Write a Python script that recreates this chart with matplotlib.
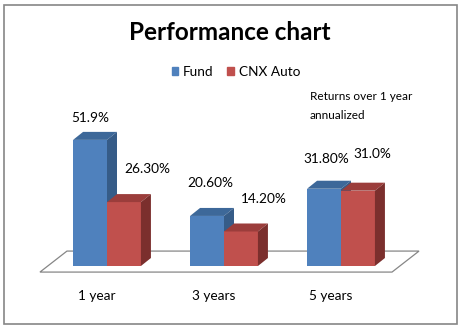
import numpy as np
import matplotlib.pyplot as plt
from matplotlib.patches import Polygon, Patch, Rectangle

plt.rcParams['font.family'] = ['Lato', 'DejaVu Sans']

periods = ['1 year', '3 years', '5 years']
fund = [51.9, 20.6, 31.8]
cnx_auto = [26.3, 14.2, 31.0]
fund_labels = ['51.9%', '20.60%', '31.80%']
cnx_labels = ['26.30%', '14.20%', '31.0%']

# label nudges in pixels (dx, dy) from the top of each bar
fund_offsets = [(0, 22), (3, 33), (2, 30)]
cnx_offsets = [(23, 33), (23, 32), (14, 37)]

blue = ('#4F81BD', '#3D6899', '#365C88')
red = ('#C0504D', '#9B3D3B', '#7B2F2D')

W, H = 464, 329
fig = plt.figure(figsize=(W / 100, H / 100), dpi=100)
ax = fig.add_axes([0, 0, 1, 1])
# data coordinates laid out so the plot sits where the reference has it
px_x, x0 = 117.0, 107.0
px_y, y0 = 2.43, 266.0
ax.set_xlim(-x0 / px_x, (W - x0) / px_x)
ax.set_ylim((y0 - H) / px_y, y0 / px_y)
ax.axis('off')

bar_w = 0.29
dx, dy = 10 / px_x, 8 / px_y

# floor
fl_l, fl_r, fl_y = -0.573, 2.436, -2.5
fdx, fdy = 27 / px_x, 21 / px_y
ax.add_patch(Polygon([(fl_l, fl_y), (fl_r, fl_y), (fl_r + fdx, fl_y + fdy),
                      (fl_l + fdx, fl_y + fdy)], closed=True,
                     facecolor='white', edgecolor='#868686', lw=0.9, zorder=1))


def bar3d(xc, v, cols):
    l, r = xc - bar_w / 2, xc + bar_w / 2
    ax.bar(xc, v, width=bar_w, color=cols[0], zorder=2)
    ax.add_patch(Polygon([(l, v), (r, v), (r + dx, v + dy), (l + dx, v + dy)],
                         closed=True, facecolor=cols[1], edgecolor='none', zorder=2))
    ax.add_patch(Polygon([(r, 0), (r + dx, dy), (r + dx, v + dy), (r, v)],
                         closed=True, facecolor=cols[2], edgecolor='none', zorder=2))


x = np.arange(len(periods))
for i in range(len(periods)):
    bar3d(x[i] - bar_w / 2, fund[i], blue)
    bar3d(x[i] + bar_w / 2, cnx_auto[i], red)
    ax.annotate(fund_labels[i], (x[i] - bar_w / 2, fund[i]), xytext=fund_offsets[i],
                textcoords='offset pixels', ha='center', va='center', fontsize=9.8)
    ax.annotate(cnx_labels[i], (x[i] + bar_w / 2, cnx_auto[i]), xytext=cnx_offsets[i],
                textcoords='offset pixels', ha='center', va='center', fontsize=9.8)
    ax.text(x[i] - 0.085, -12.3, periods[i], ha='center', va='center', fontsize=9.8)

fig.text(230 / W, 1 - 33 / H, 'Performance chart', ha='center', va='center',
         fontsize=17.5, fontweight='bold')
fig.text(310 / W, 1 - 97 / H, 'Returns over 1 year', ha='left', va='center', fontsize=8.5)
fig.text(310 / W, 1 - 115 / H, 'annualized', ha='left', va='center', fontsize=8.5)

handles = [Patch(color=blue[0], label='Fund'), Patch(color=red[0], label='CNX Auto')]
fig.legend(handles=handles, loc='center', bbox_to_anchor=(236 / W, 1 - 72 / H), ncol=2,
           frameon=False, fontsize=9.8, handlelength=0.5, handleheight=0.5,
           handletextpad=0.35, columnspacing=1.0)

fig.patches.append(Rectangle((4 / W, 1 - 324 / H), 453 / W, 319 / H, transform=fig.transFigure,
                             fill=False, edgecolor='#868686', lw=1.2))

fig.savefig('out.png', dpi=100)
